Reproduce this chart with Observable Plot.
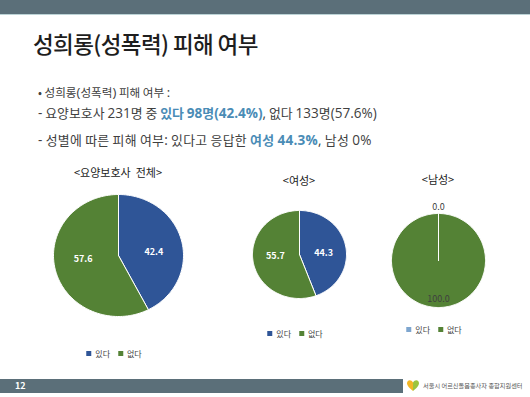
<!DOCTYPE html>
<html><head><meta charset="utf-8">
<script src="https://cdn.jsdelivr.net/npm/d3@7"></script>
<script src="https://cdn.jsdelivr.net/npm/@observablehq/plot@0.6"></script>
<style>
html,body{margin:0;padding:0;background:#fff;}
body{width:530px;height:397px;position:relative;overflow:hidden;font-family:"Noto Sans CJK KR","Noto Sans",sans-serif;color:#333;}
.abs{position:absolute;}
#topbar{left:0;top:0;width:530px;height:14px;background:#5b6f79;border-bottom:1.5px solid #bcd3d6;}
#title{left:33px;top:27px;font-size:22.5px;font-weight:500;color:#1e1e1e;letter-spacing:-0.6px;white-space:nowrap;}
.bl{left:38px;font-size:11.6px;line-height:18px;color:#404040;white-space:pre;}
.bl .lat{font-family:"Open Sans","Noto Sans",sans-serif;font-size:1.13em;}
.bl.l2{font-size:12.9px;}
.bl.l2 .lat{font-size:1.05em;}
#b3{letter-spacing:0.25px;}
.hl{color:#4a8cb6;font-weight:700;}
.ct{font-size:11px;color:#222;white-space:pre;transform:translateX(-50%);}
.lg{transform:translateX(-50%);}
#footbar{left:0;top:379px;width:403px;height:14px;background:#5b6f79;}
#pnum{left:15px;top:379px;font-size:9px;font-weight:700;color:#fff;line-height:14px;}
#logo{left:406px;top:378px;width:14px;height:14px;}
#org{left:423px;top:380px;font-size:6.2px;color:#555;white-space:nowrap;line-height:12px;}
</style></head>
<body>
<div id="topbar" class="abs"></div>
<div id="title" class="abs"></div>
<div id="b1" class="abs bl" style="top:83px"></div>
<div id="b2" class="abs bl l2" style="top:104px"></div>
<div id="b3" class="abs bl l2" style="top:131px"></div>
<div id="charts"></div>
<div id="footbar" class="abs"></div>
<div id="pnum" class="abs">12</div>
<svg id="logo" class="abs" viewBox="0 0 14 14"><path d="M7 13 C2 9 0 6 1.5 3.5 C3 1.5 5.5 2 7 4.5 Z" fill="#f2b624"/><path d="M7 13 C12 9 14 6 12.5 3.5 C11 1.5 8.5 2 7 4.5 Z" fill="#9cc43d"/></svg>
<div id="org" class="abs">서울시 어르신돌봄종사자 종합지원센터</div>
<script>
// ---- data ----
const pageTitle = "성희롱(성폭력) 피해 여부";
const bulletLines = [
  ["• 성희롱(성폭력) 피해 여부 :"],
  ["- 요양보호사 231명 중 ", "있다 98명(42.4%)", ", 없다 133명(57.6%)"],
  ["- 성별에 따른 피해 여부: 있다고 응답한 ", "여성 44.3%", ", 남성 0%"]
];
const categories = ["있다", "없다"];
const chartTitles = ["<요양보호사  전체>", "<여성>", "<남성>"];
const totalValues = [42.4, 57.6];
const femaleValues = [44.3, 55.7];
const maleValues = [0.0, 100.0];

// ---- text ----
document.getElementById("title").textContent = pageTitle;
function appendMixed(parent, str) {
  const re = /([0-9.%,():\-]+)/g;
  str.split(re).forEach(part => {
    if (!part) return;
    if (/^[0-9.%,():\-]+$/.test(part)) {
      const s = document.createElement("span");
      s.className = "lat";
      s.textContent = part;
      parent.appendChild(s);
    } else parent.appendChild(document.createTextNode(part));
  });
}
bulletLines.forEach((parts, i) => {
  const el = document.getElementById("b" + (i + 1));
  parts.forEach((p, j) => {
    const s = document.createElement("span");
    if (j === 1) s.className = "hl";
    appendMixed(s, p);
    el.appendChild(s);
  });
});

const font = '"Noto Sans CJK KR","Noto Sans",sans-serif';
const container = document.getElementById("charts");

function pieChart(values, colors, cfg) {
  const m = 14;
  const total = d3.sum(values);
  let acc = 0;
  const pts = [], labels = [];
  values.forEach((v, i) => {
    const a0 = acc / total * 2 * Math.PI; acc += v;
    const a1 = acc / total * 2 * Math.PI;
    const n = Math.max(2, Math.ceil((a1 - a0) / (Math.PI / 120)));
    const slice = categories[i];
    pts.push({slice, x: 0, y: 0});
    for (let k = 0; k <= n; k++) {
      const a = a0 + (a1 - a0) * k / n;
      pts.push({slice, x: Math.sin(a), y: Math.cos(a)});
    }
    pts.push({slice, x: 0, y: 0});
    const am = (a0 + a1) / 2;
    const r = v === 0 ? 1.13 : cfg.labelR;
    labels.push({x: Math.sin(am) * r, y: Math.cos(am) * r * cfg.labelYF, text: v.toFixed(1)});
  });
  const plot = Plot.plot({
    width: 2 * cfg.rx + 2 * m, height: 2 * cfg.ry + 2 * m, margin: m,
    style: {fontFamily: font, background: "transparent", overflow: "visible"},
    x: {domain: [-1, 1], axis: null},
    y: {domain: [-1, 1], axis: null},
    color: {domain: categories, range: colors},
    marks: [
      Plot.line(pts, {x: "x", y: "y", z: "slice", fill: "slice", stroke: "white", strokeWidth: 1, strokeLinejoin: "round", curve: "linear"}),
      Plot.text(labels, {x: "x", y: "y", text: "text", fill: cfg.labelColor, fontWeight: cfg.labelWeight, fontSize: 9})
    ]
  });
  plot.style.position = "absolute";
  plot.style.left = (cfg.cx - cfg.rx - m) + "px";
  plot.style.top = (cfg.cy - cfg.ry - m) + "px";
  container.appendChild(plot);

  const t = document.createElement("div");
  t.className = "abs ct";
  t.style.left = cfg.cx + "px";
  t.style.top = cfg.titleY + "px";
  t.textContent = cfg.title;
  container.appendChild(t);

  const lg = Plot.legend({
    color: {domain: categories, range: cfg.legendColors || colors},
    legend: "swatches", swatchSize: 5, swatchWidth: 5, swatchHeight: 5,
    style: {fontSize: "8px", fontFamily: font, color: "#444"}
  });
  const w = document.createElement("div");
  w.className = "abs lg";
  w.style.left = cfg.cx + "px";
  w.style.top = cfg.legendY + "px";
  w.appendChild(lg);
  container.appendChild(w);
}

const blue = "#2f5597", green = "#548235";
pieChart(totalValues, [blue, green], {cx: 118, cy: 255, rx: 65, ry: 61, labelR: 0.56, labelYF: 0.4, labelColor: "white", labelWeight: "bold", title: chartTitles[0], titleY: 164, legendY: 337});
pieChart(femaleValues, [blue, green], {cx: 299, cy: 254, rx: 47, ry: 44, labelR: 0.52, labelYF: 0.4, labelColor: "white", labelWeight: "bold", title: chartTitles[1], titleY: 172, legendY: 317});
pieChart(maleValues, ["#7ea6cf", green], {cx: 438, cy: 260, rx: 47, ry: 47, labelR: 0.83, labelYF: 1, labelColor: "#404040", labelWeight: "normal", title: chartTitles[2], titleY: 171, legendY: 313});
</script>
</body></html>
